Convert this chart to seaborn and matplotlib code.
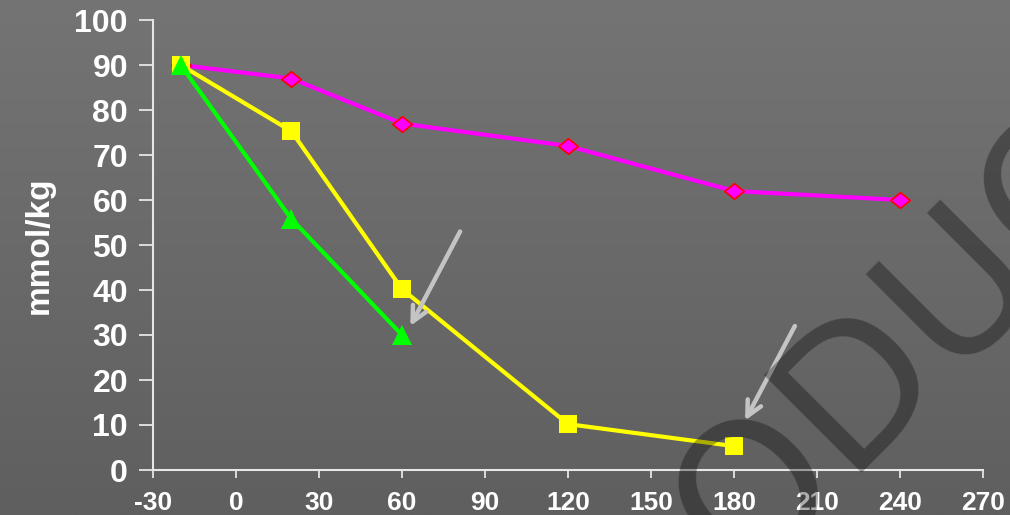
import numpy as np
import pandas as pd
import matplotlib
matplotlib.use("Agg")
import matplotlib.pyplot as plt
import seaborn as sns
from matplotlib.path import Path

# Sampling times (min) and concentrations (mmol/kg) for each series
time_magenta = [-20, 20, 60, 120, 180, 240]
conc_magenta = [90, 87, 77, 72, 62, 60]

time_yellow = [-20, 20, 60, 120, 180]
conc_yellow = [90, 75.3, 40.2, 10.2, 5.3]

time_green = [-20, 20, 60]
conc_green = [90, 55.8, 30]

x_ticks = [-30, 0, 30, 60, 90, 120, 150, 180, 210, 240, 270]
y_ticks = [0, 10, 20, 30, 40, 50, 60, 70, 80, 90, 100]

# Arrow annotations: (tail x, tail y, head x, head y)
arrows = [(81, 53, 63, 32), (202, 32, 184, 11)]

sns.set_theme(style="white")
plt.rcParams["font.family"] = ["Liberation Sans", "DejaVu Sans"]

df = pd.concat([
    pd.DataFrame({"time": time_magenta, "conc": conc_magenta, "series": "magenta"}),
    pd.DataFrame({"time": time_yellow, "conc": conc_yellow, "series": "yellow"}),
    pd.DataFrame({"time": time_green, "conc": conc_green, "series": "green"}),
])

fig = plt.figure(figsize=(10.1, 5.15), dpi=100)

# Vertical grey gradient background
bg = fig.add_axes([0, 0, 1, 1], zorder=-10)
grad = np.linspace(0, 1, 256).reshape(-1, 1)
c_top = np.array([0x74, 0x74, 0x74]) / 255
c_bot = np.array([0x5f, 0x5f, 0x5f]) / 255
img = c_top[None, None, :] * (1 - grad[:, :, None]) + c_bot[None, None, :] * grad[:, :, None]
bg.imshow(img, aspect="auto", extent=[0, 1, 0, 1])
bg.axis("off")

ax = fig.add_axes([153 / 1010, 45 / 515, 830 / 1010, 450 / 515])
ax.patch.set_alpha(0)

diamond = Path([(-1, 0), (0, 0.8), (1, 0), (0, -0.8), (-1, 0)],
               [Path.MOVETO, Path.LINETO, Path.LINETO, Path.LINETO, Path.CLOSEPOLY])

sns.lineplot(data=df[df.series == "magenta"], x="time", y="conc", ax=ax,
             color="#ff00ff", lw=3, marker=diamond, markersize=14,
             markerfacecolor="#ff00ff", markeredgecolor="#ff0000",
             markeredgewidth=1.2, zorder=3)
sns.lineplot(data=df[df.series == "yellow"], x="time", y="conc", ax=ax,
             color="#ffff00", lw=3, marker="s", markersize=13.5,
             markerfacecolor="#ffff00", markeredgecolor="#ffff00",
             markeredgewidth=0, zorder=4)
sns.lineplot(data=df[df.series == "green"], x="time", y="conc", ax=ax,
             color="#00ff00", lw=3, marker="^", markersize=14,
             markerfacecolor="#00ff00", markeredgecolor="#00ff00",
             markeredgewidth=0, zorder=5)

for x0, y0, x1, y1 in arrows:
    ax.annotate("", xy=(x1, y1), xytext=(x0, y0),
                arrowprops=dict(arrowstyle="->,head_length=0.9,head_width=0.45",
                                color="#c4c4c4", lw=3.2, shrinkA=0, shrinkB=0),
                zorder=6)

ax.set_xlim(-30, 270)
ax.set_ylim(0, 100)
ax.set_xticks(x_ticks)
ax.set_yticks(y_ticks)
ax.set_xticklabels([str(t) for t in x_ticks])
ax.set_yticklabels([str(t) for t in y_ticks])
ax.set_xlabel("")
ax.set_ylabel("mmol/kg", fontsize=24, fontweight="bold", color="white", labelpad=14)

for s in ["top", "right"]:
    ax.spines[s].set_visible(False)
for s in ["left", "bottom"]:
    ax.spines[s].set_color("#e6e6e6")
    ax.spines[s].set_linewidth(1.5)

ax.tick_params(axis="y", direction="out", length=10, width=1.3, color="#e6e6e6",
               labelsize=23, labelcolor="white", pad=8, left=True)
ax.tick_params(axis="x", direction="out", length=6, width=1.3, color="#e6e6e6",
               labelsize=18, labelcolor="white", pad=9, bottom=True)
for lbl in ax.get_yticklabels():
    lbl.set_fontweight("bold")
for lbl in ax.get_xticklabels():
    lbl.set_fontweight("bold")
    lbl.set_fontfamily(["Liberation Sans Narrow", "Liberation Sans", "DejaVu Sans"])
    lbl.set_fontsize(19)

# Diagonal watermark lettering
fig.text(704 / 1010, -31 / 515, "ODUC", rotation=45, rotation_mode="anchor",
         ha="left", va="center", fontsize=136, color="black", alpha=0.33,
         family=["DejaVu Sans"], fontweight="normal", zorder=20)

fig.savefig("out.png", dpi=100)
